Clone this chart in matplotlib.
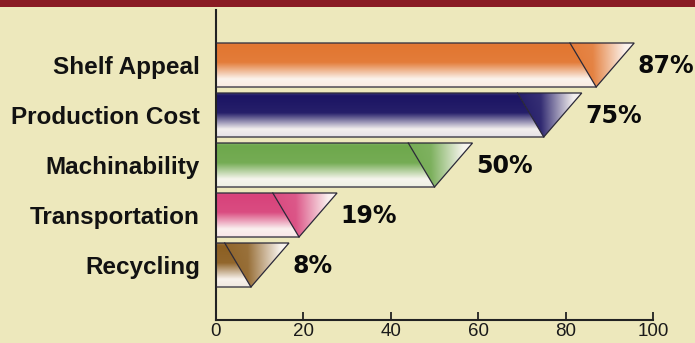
import numpy as np
import matplotlib
matplotlib.use('Agg')
import matplotlib.pyplot as plt
from matplotlib.patches import Polygon, Rectangle
from matplotlib.colors import to_rgb

categories = ['Shelf Appeal', 'Production Cost', 'Machinability', 'Transportation', 'Recycling']
values = [87, 75, 50, 19, 8]
bar_colors = ['#e27630', '#1b1463', '#6ea84c', '#d8437b', '#8c5f22']
xticks = [0, 20, 40, 60, 80, 100]

BG = '#ede8bc'
fig = plt.figure(figsize=(6.95, 3.43), dpi=100)
fig.patch.set_facecolor(BG)
fig.add_artist(Rectangle((0, 1 - 7 / 343), 1, 7 / 343, transform=fig.transFigure,
                         facecolor='#8a1c24', edgecolor='none'))

ax = fig.add_axes([216 / 695, 1 - 320 / 343, 437 / 695, 310 / 343])
ax.set_facecolor('none')
ax.set_xlim(0, 100)
ax.set_ylim(-1.1, 5.1)

n = len(categories)
ypos = [n - 1 - i for i in range(n)]
half = 0.44
back = 6.0
fwd = 8.7
white = np.array(to_rgb('#fcf8f4'))
edge = '#2a2838'

for cat, v, c, y in zip(categories, values, bar_colors, ypos):
    col = np.array(to_rgb(c))
    top, bot = y + half, y - half
    # body
    t = np.linspace(0, 1, 200)
    w = np.interp(t, [0, 0.06, 0.45, 0.82, 1.0], [0.85, 1.0, 0.95, 0.04, 0.1])
    img = w[:, None, None] * col[None, None, :] + (1 - w)[:, None, None] * white[None, None, :]
    img = np.repeat(img, 2, axis=1)
    body = Polygon([(0, top), (v - back, top), (v, bot), (0, bot)], closed=True,
                   facecolor='none', edgecolor='none', transform=ax.transData)
    ax.add_patch(body)
    im = ax.imshow(img, extent=(0, v + 0.01, bot, top), origin='upper', aspect='auto',
                   interpolation='bilinear', zorder=2)
    im.set_clip_path(body)
    # triangle
    s = np.linspace(0, 1, 200)
    tv = np.linspace(0, 1, 60)
    wh = np.interp(s, [0, 0.35, 0.85, 1.0], [1.0, 0.92, 0.05, 0.0])
    wv = np.interp(tv, [0, 1], [0.95, 1.0])
    W = wv[:, None] * wh[None, :]
    img2 = W[:, :, None] * col[None, None, :] + (1 - W)[:, :, None] * white[None, None, :]
    tri = Polygon([(v - back, top), (v + fwd, top), (v, bot)], closed=True,
                  facecolor='none', edgecolor='none', transform=ax.transData)
    ax.add_patch(tri)
    im2 = ax.imshow(img2, extent=(v - back, v + fwd, bot, top), origin='upper', aspect='auto',
                    interpolation='bilinear', zorder=2)
    im2.set_clip_path(tri)
    # outlines
    ax.plot([0, v + fwd, v, 0], [top, top, bot, bot], color=edge, lw=0.9, zorder=3,
            solid_joinstyle='miter')
    ax.plot([v - back, v], [top, bot], color=edge, lw=0.9, zorder=3)
    ax.text(v + fwd + 0.8, y - 0.02, f'{v}%', ha='left', va='center', fontsize=17,
            fontweight='bold', family='DejaVu Sans', color='#0a0a0a', zorder=4)

ax.set_yticks(ypos)
ax.set_yticklabels(categories, fontsize=17.5, fontweight='bold', family='Liberation Sans',
                   color='#121212')
ax.tick_params(axis='y', length=0, pad=11.5)
ax.set_xticks(xticks)
ax.set_xticklabels([str(x) for x in xticks], fontsize=13.5, family='Liberation Sans', color='#1a1a1a')
ax.tick_params(axis='x', direction='in', length=6, width=1.3, color='#222222', pad=2.5)
for sp in ['top', 'right']:
    ax.spines[sp].set_visible(False)
for sp in ['left', 'bottom']:
    ax.spines[sp].set_linewidth(1.5)
    ax.spines[sp].set_color('#222222')

fig.savefig('out.png', dpi=100, facecolor=BG)
